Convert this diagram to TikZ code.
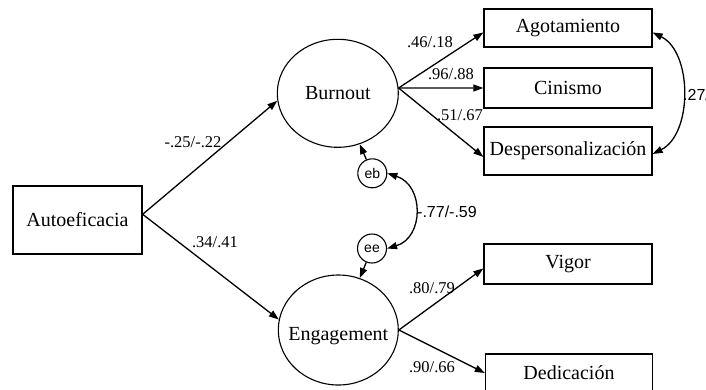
\documentclass[tikz,border=0pt]{standalone}
\usepackage{fontspec}
\setmainfont{Liberation Serif}
\newfontfamily\arialf{Liberation Sans}
\usetikzlibrary{arrows.meta,shapes.geometric}
\begin{document}
\begin{tikzpicture}[x=1pt,y=-1pt,
  obs/.style={draw,line width=1.3pt,rectangle,inner sep=0pt,font=\fontsize{20}{22}\selectfont},
  lat/.style={draw,line width=1.1pt,ellipse,inner sep=0pt},
  lattext/.style={inner sep=0pt,font=\fontsize{20}{22}\selectfont},
  err/.style={draw,line width=1.1pt,circle,inner sep=0pt,minimum size=29pt,font=\arialf\fontsize{14}{16}\selectfont},
  arr/.style={line width=1.3pt,-{Triangle[length=10pt,width=7pt]}},
  cov/.style={line width=1.3pt,{Triangle[length=10pt,width=7pt]}-{Triangle[length=10pt,width=7pt]}},
  coef/.style={inner sep=0pt,font=\fontsize{16.5}{18}\selectfont},
  coefs/.style={inner sep=0pt,font=\arialf\fontsize{16}{18}\selectfont}]
\useasboundingbox (0,0) rectangle (706,389);

% observed variables
\node[obs,minimum width=129pt,minimum height=68pt] (auto) at (77.5,220) {Autoeficacia};
\node[obs,minimum width=168pt,minimum height=38pt] (agot) at (568,28) {Agotamiento};
\node[obs,minimum width=168pt,minimum height=40pt] (cin) at (568,88) {Cinismo};
\node[obs,minimum width=168pt,minimum height=48pt] (desp) at (568,151) {Despersonalización};
\node[obs,minimum width=168pt,minimum height=40pt] (vig) at (568,264) {Vigor};
\node[obs,minimum width=167pt,minimum height=38pt] (ded) at (569,373) {Dedicación};

% latent variables
\node[lat,minimum width=121pt,minimum height=108pt] (burn) at (337.8,93.3) {};
\node[lattext] (burnt) at (337.8,93.3) {Burnout};
\node[lat,minimum width=120pt,minimum height=110pt] (eng) at (338.3,330) {};
\node[lattext] (engt) at (338.3,336) {Engagement};

% errors
\node[err] (eb) at (372.3,173.3) {eb};
\node[err] (ee) at (372,248.5) {ee};

% paths
\draw[arr] (auto.5) -- (burn.187);
\draw[arr] (auto.5) -- (eng.170);
\draw[arr] (burn.5) -- (agot.183);
\draw[arr] (burn.5) -- (cin.west);
\draw[arr] (burn.5) -- (desp.184);
\draw[arr] (eng.east) -- (vig.183);
\draw[arr] (eng.east) -- (ded.west);
\draw[arr] (eb) -- (burn);
\draw[arr] (ee) -- (eng);
\draw[cov] (eb.east) .. controls +(37,12) and +(37,-11) .. (ee.east);
\draw[cov] (agot.-3) .. controls +(40,20) and +(40,-20) .. (desp.-2);

% coefficients
\node[coef] (l1) at (193,142) {-.25/-.22};
\node[coef] (l2) at (215,242) {.34/.41};
\node[coef] (l3) at (430,42) {.46/.18};
\node[coef] (l4) at (451,74) {.96/.88};
\node[coef] (l5) at (460,115) {.51/.67};
\node[coef] (l6) at (432,288) {.80/.79};
\node[coef] (l7) at (432,367) {.90/.66};
\node[coefs,anchor=west] (l8) at (417,212) {-.77/-.59};
\node[coefs,anchor=west] (l9) at (683,95) {.27/};
\end{tikzpicture}
\end{document}
